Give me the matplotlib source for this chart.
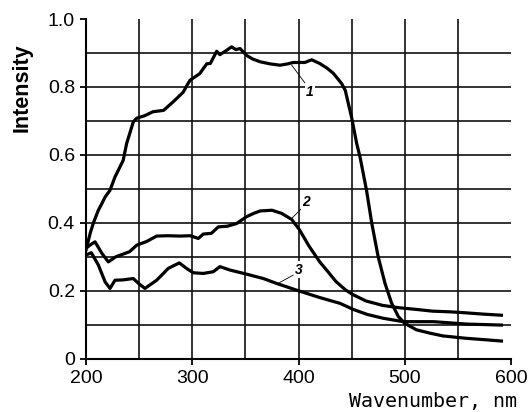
import matplotlib
matplotlib.use("Agg")
import matplotlib.pyplot as plt

# Curve 1
x1 = [200, 204, 207, 211.6, 215, 218, 222.6, 227.3, 235, 238.3, 244.5, 247.7, 255, 263, 273,
      282, 291.6, 296, 298, 307, 313.6, 317, 323, 326, 331, 337, 341, 345, 351, 357, 364, 373,
      382.6, 390, 395, 406, 412.4, 420, 427, 432.8, 440.6, 444, 447, 450, 454.8, 457.9, 464,
      469, 475, 481.4, 487.7, 494, 500, 511, 524, 536, 558, 575, 591]
y1 = [0.32, 0.37, 0.40, 0.437, 0.457, 0.476, 0.496, 0.535, 0.584, 0.634, 0.697, 0.708, 0.715,
      0.727, 0.731, 0.756, 0.785, 0.81, 0.82, 0.839, 0.868, 0.869, 0.905, 0.895, 0.905, 0.918,
      0.91, 0.913, 0.893, 0.882, 0.874, 0.868, 0.864, 0.868, 0.872, 0.872, 0.88, 0.869, 0.855,
      0.84, 0.81, 0.79, 0.75, 0.71, 0.633, 0.594, 0.496, 0.398, 0.30, 0.222, 0.163, 0.124,
      0.104, 0.085, 0.075, 0.067, 0.06, 0.056, 0.052]

# Curve 2
x2 = [200, 204, 208.5, 215, 221, 228, 235, 241, 247.7, 257, 266.5, 277, 288.5, 298, 305.7,
      310.4, 318, 324.5, 333, 341.8, 351, 358, 364, 375, 384, 393.6, 400.8, 410, 420, 428, 435,
      444, 451, 463.5, 479, 494.7, 511, 526, 542.6, 557.6, 575, 591]
y2 = [0.325, 0.335, 0.344, 0.31, 0.285, 0.30, 0.308, 0.315, 0.334, 0.345, 0.361, 0.362, 0.361,
      0.362, 0.354, 0.367, 0.369, 0.388, 0.39, 0.398, 0.418, 0.428, 0.435, 0.437, 0.428, 0.41,
      0.38, 0.331, 0.285, 0.255, 0.228, 0.203, 0.189, 0.17, 0.157, 0.15, 0.145, 0.14, 0.138,
      0.135, 0.131, 0.128]

# Curve 3
x3 = [200, 205, 211.6, 218, 222.6, 227.3, 235, 244.5, 250, 255.5, 266.5, 277.5, 287.8, 295,
      301, 310.4, 319.8, 326, 335.5, 351, 366.9, 379, 398, 420, 439, 451.6, 465, 479.8, 498.6,
      527, 558, 591]
y3 = [0.305, 0.312, 0.276, 0.226, 0.207, 0.231, 0.232, 0.236, 0.22, 0.207, 0.231, 0.266, 0.282,
      0.265, 0.253, 0.251, 0.256, 0.271, 0.261, 0.249, 0.236, 0.222, 0.202, 0.18, 0.163, 0.145,
      0.13, 0.119, 0.109, 0.109, 0.102, 0.099]

x_ticks = [200, 300, 400, 500, 600]
x_tick_labels = ["200", "300", "400", "500", "600"]
y_ticks = [0, 0.2, 0.4, 0.6, 0.8, 1.0]
y_tick_labels = ["0", "0.2", "0.4", "0.6", "0.8", "1.0"]
x_grid = [250, 300, 350, 400, 450, 500, 550]
y_grid = [0.1, 0.2, 0.3, 0.4, 0.5, 0.6, 0.7, 0.8, 0.9]

labels = ["1", "2", "3"]
label_pos = [(410.8, 0.785), (407.6, 0.462), (400.5, 0.262)]
leader_from = [(393.6, 0.864), (393.6, 0.413), (381, 0.222)]
leader_to = [(406, 0.812), (404.5, 0.447), (395, 0.246)]

fig = plt.figure(figsize=(5.32, 4.12), dpi=100)
ax = fig.add_axes([86 / 532, (412 - 358.7) / 412, (511 - 86) / 532, (358.7 - 19) / 412])
ax.set_xlim(200, 600)
ax.set_ylim(0, 1.0)

ax.vlines(x_grid, 0, 1.0, colors="#111111", linewidth=1.2, zorder=1)
ax.hlines(y_grid, 200, 600, colors="#111111", linewidth=1.2, zorder=1)

for xs, ys in [(x1, y1), (x2, y2), (x3, y3)]:
    ax.plot(xs, ys, color="black", linewidth=2.3, zorder=3, solid_joinstyle="round")

for lab, pos, a, b in zip(labels, label_pos, leader_from, leader_to):
    ax.plot([a[0], b[0]], [a[1], b[1]], color="black", linewidth=0.6, zorder=4)
    ax.text(pos[0], pos[1], lab, ha="center", va="center", fontsize=10, fontweight="bold",
            style="italic", family="Liberation Sans", zorder=5,
            bbox=dict(facecolor="white", edgecolor="none", pad=1.0))

for s in ["top", "right"]:
    ax.spines[s].set_visible(False)
for s in ["left", "bottom"]:
    ax.spines[s].set_linewidth(1.5)
    ax.spines[s].set_color("black")

ax.set_xticks(x_ticks)
ax.set_xticklabels(x_tick_labels)
ax.set_yticks(y_ticks)
ax.set_yticklabels(y_tick_labels)
ax.tick_params(direction="out", length=4, width=1.3, labelsize=14, pad=4)
for t in ax.get_xticklabels() + ax.get_yticklabels():
    t.set_family("Liberation Sans")

fig.text(517 / 532, 1 - 407 / 412, "Wavenumber, nm", ha="right", va="baseline",
         fontsize=14.4, family="DejaVu Sans Mono")
fig.text(22 / 532, 1 - 88 / 412, "Intensity", ha="center", va="center", rotation=90,
         fontsize=15.5, fontweight="bold", family="Liberation Sans")

fig.savefig("out.png", dpi=100)
